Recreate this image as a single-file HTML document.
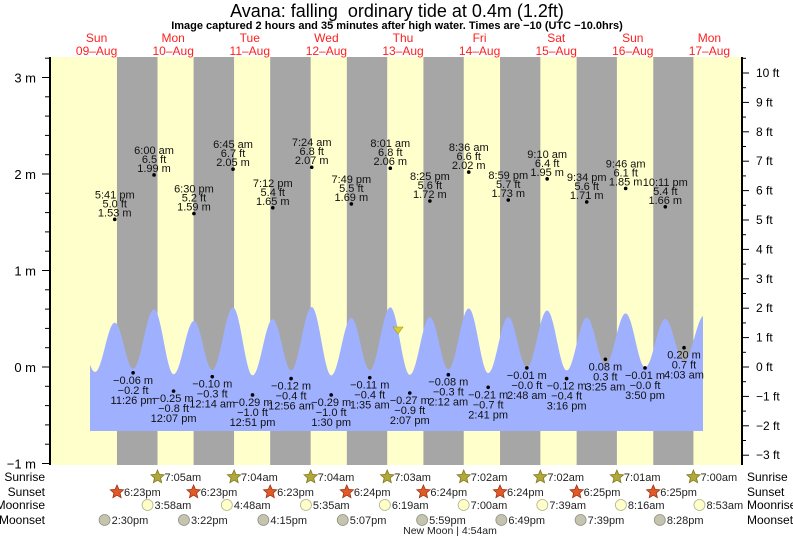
<!DOCTYPE html>
<html><head><meta charset="utf-8"><style>
body{margin:0;background:#fff;}
svg{display:block;font-family:"Liberation Sans",sans-serif;}
</style></head><body>
<svg id="s" width="793" height="539" xmlns="http://www.w3.org/2000/svg"></svg>
<script>
const S=document.getElementById('s');let h='';
const X0=58.3,D=76.6,HP=D/24;
const tx=(d,hh,mm)=>X0+d*D+(hh+mm/60)*HP;
const ym=m=>367-96.5*m;
h+='<rect x="50" y="57" width="692" height="408" fill="#ffffcc"/>';
const ss=[[18,23],[18,23],[18,23],[18,24],[18,24],[18,24],[18,24],[18,25],[18,25]];
const sr=[[7,5],[7,4],[7,4],[7,3],[7,2],[7,2],[7,1],[7,0]];
for(let d=0;d<8;d++){const a=tx(d,ss[d][0],ss[d][1]),b=tx(d+1,sr[d][0],sr[d][1]);h+=`<rect x="${a}" y="57" width="${b-a}" height="408" fill="#a6a6a6"/>`;}
const P=(t)=>{let [hm,ap]=t.split(' ');let [a,b]=hm.split(':').map(Number);if(ap=='pm'&&a!=12)a+=12;if(ap=='am'&&a==12)a=0;return [a,b];};
const E=[[0,'5:41 pm',1.53,'5.0'],[0,'11:26 pm',-0.06,'-0.2'],
[1,'6:00 am',1.99,'6.5'],[1,'12:07 pm',-0.25,'-0.8'],[1,'6:30 pm',1.59,'5.2'],
[2,'12:14 am',-0.10,'-0.3'],[2,'6:45 am',2.05,'6.7'],[2,'12:51 pm',-0.29,'-1.0'],[2,'7:12 pm',1.65,'5.4'],
[3,'12:56 am',-0.12,'-0.4'],[3,'7:24 am',2.07,'6.8'],[3,'1:30 pm',-0.29,'-1.0'],[3,'7:49 pm',1.69,'5.5'],
[4,'1:35 am',-0.11,'-0.4'],[4,'8:01 am',2.06,'6.8'],[4,'2:07 pm',-0.27,'-0.9'],[4,'8:25 pm',1.72,'5.6'],
[5,'2:12 am',-0.08,'-0.3'],[5,'8:36 am',2.02,'6.6'],[5,'2:41 pm',-0.21,'-0.7'],[5,'8:59 pm',1.73,'5.7'],
[6,'2:48 am',-0.01,'-0.0'],[6,'9:10 am',1.95,'6.4'],[6,'3:16 pm',-0.12,'-0.4'],[6,'9:34 pm',1.71,'5.6'],
[7,'3:25 am',0.08,'0.3'],[7,'9:46 am',1.85,'6.1'],[7,'3:50 pm',-0.01,'-0.0'],[7,'10:11 pm',1.66,'5.4'],
[8,'4:03 am',0.20,'0.7']];
const pts=[[tx(0,11,30),-0.17]];
E.forEach(e=>{const [a,b]=P(e[1]);e.x=tx(e[0],a,b);pts.push([e.x,e[2]]);});
pts.push([tx(8,10,25),1.78]);
const yc=m=>367-29*m;
let d=`M90 431 `;
for(let x=90;x<=703;x+=1){let i=0;while(pts[i+1][0]<x)i++;const [x1,h1]=pts[i],[x2,h2]=pts[i+1];const f=(x-x1)/(x2-x1);const v=h1+(h2-h1)*(1-Math.cos(Math.PI*f))/2;d+=`L${x} ${yc(v).toFixed(1)} `;}
d+='L703 431Z';
h+=`<path d="${d}" fill="#9fb0ff"/>`;
const fm=s=>s.replace('-','\u2212');
E.forEach(e=>{const y=ym(e[2]);h+=`<circle cx="${e.x}" cy="${y}" r="1.8" fill="#000"/>`;
const m=fm(e[2].toFixed(2))+' m',ft=fm(e[3])+' ft';
let L=e[2]>1?[[e[1],y-21],[ft,y-12],[m,y-3]]:[[m,y+11],[ft,y+21],[e[1],y+31]];
L.forEach(l=>h+=`<text x="${e.x}" y="${l[1]}" font-size="11" text-anchor="middle" fill="#111">${l[0].replace('-','\u2212')}</text>`);});
h+='<polygon points="393,327 403,327 398,334" fill="#d8d030" stroke="#a09820" stroke-width="0.6"/>';
h+='<line x1="50" y1="57" x2="50" y2="465" stroke="#000" stroke-width="2"/><line x1="742" y1="57" x2="742" y2="465" stroke="#000" stroke-width="2"/>';
for(let i=-5;i<=16;i++){const y=ym(i*0.2);if(y<57||y>466)continue;const mj=i%5==0;h+=`<line x1="${mj?42:45}" y1="${y}" x2="50" y2="${y}" stroke="#000"/>`;if(mj)h+=`<text x="36" y="${y+5}" font-size="13" text-anchor="end">${fm(String(i/5))} m</text>`;}
for(let i=-7;i<=21;i++){const y=367-29.4*i*0.5;if(y<57||y>466)continue;const mj=i%2==0;h+=`<line x1="742" y1="${y}" x2="${mj?749:746}" y2="${y}" stroke="#000"/>`;if(mj)h+=`<text x="756" y="${y+4}" font-size="12">${fm(String(i/2))} ft</text>`;}
const dn=[['Sun','09'],['Mon','10'],['Tue','11'],['Wed','12'],['Thu','13'],['Fri','14'],['Sat','15'],['Sun','16'],['Mon','17']];
dn.forEach((v,i)=>{const x=tx(i,12,0);h+=`<text x="${x}" y="42" font-size="12" fill="#ff2020" text-anchor="middle">${v[0]}</text><text x="${x}" y="55" font-size="12" fill="#ff2020" text-anchor="middle">${v[1]}\u2013Aug</text>`;});
h+='<text x="397" y="17" font-size="18" text-anchor="middle">Avana: falling \u00a0ordinary tide at 0.4m (1.2ft)</text>';
h+='<text x="397" y="29" font-size="11" font-weight="bold" text-anchor="middle">Image captured 2 hours and 35 minutes after high water. Times are \u221210 (UTC \u221210.0hrs)</text>';
const rows=[['Sunrise',477],['Sunset',492],['Moonrise',505],['Moonset',520]];
rows.forEach(r=>{h+=`<text x="45" y="${r[1]+4}" font-size="12" text-anchor="end">${r[0]}</text><text x="747" y="${r[1]+4}" font-size="12">${r[0]}</text>`;});
const star=(x,y,f,st)=>{let p=[];for(let k=0;k<10;k++){const r=k%2?3.2:7,a=-Math.PI/2+k*Math.PI/5;p.push((x+r*Math.cos(a)).toFixed(1)+','+(y+r*Math.sin(a)).toFixed(1));}return `<polygon points="${p.join(' ')}" fill="${f}" stroke="${st}" stroke-width="0.8"/>`;};
const lab=(x,y,t)=>`<text x="${x+7}" y="${y+4}" font-size="11" fill="#222">${t}</text>`;
const srs=['7:05am','7:04am','7:04am','7:03am','7:02am','7:02am','7:01am','7:00am'];
srs.forEach((t,i)=>{const x=tx(i+1,sr[i][0],sr[i][1]);h+=star(x,477,'#b0a838','#807820')+lab(x,477,t);});
const sst=['6:23pm','6:23pm','6:23pm','6:24pm','6:24pm','6:24pm','6:25pm','6:25pm'];
sst.forEach((t,i)=>{const [a,b]=P(t.replace('pm',' pm'));const x=tx(i,a,b);h+=star(x,492,'#e05a28','#a03010')+lab(x,492,t);});
const mr=['3:58am','4:48am','5:35am','6:19am','7:00am','7:39am','8:16am','8:53am'];
mr.forEach((t,i)=>{const [a,b]=P(t.replace('am',' am'));const x=tx(i+1,a,b);h+=`<circle cx="${x}" cy="505" r="5.5" fill="#ffffc8" stroke="#b0b090" stroke-width="0.8"/>`+lab(x,505,t);});
const ms=['2:30pm','3:22pm','4:15pm','5:07pm','5:59pm','6:49pm','7:39pm','8:28pm'];
ms.forEach((t,i)=>{const [a,b]=P(t.replace('pm',' pm'));const x=tx(i,a,b);h+=`<circle cx="${x}" cy="520" r="5.5" fill="#c4c4b0" stroke="#909080" stroke-width="0.8"/>`+lab(x,520,t);});
h+='<text x="450" y="534" font-size="10.5" text-anchor="middle" fill="#222">New Moon | 4:54am</text>';
S.innerHTML=h;
</script>
</body></html>
